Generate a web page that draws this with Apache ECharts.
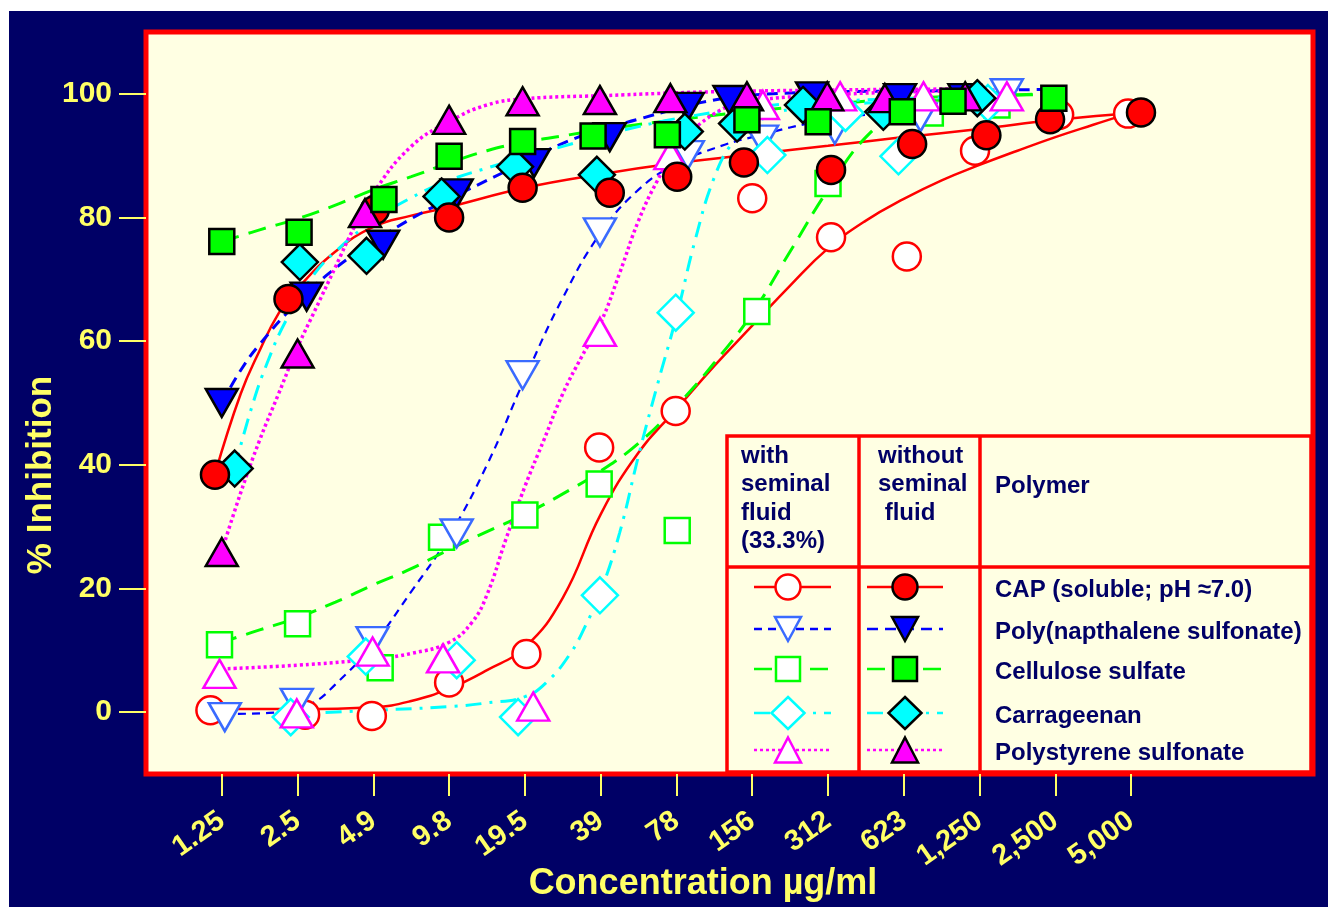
<!DOCTYPE html>
<html>
<head>
<meta charset="utf-8">
<script src="https://cdn.jsdelivr.net/npm/echarts@6/dist/echarts.min.js"></script>
<style>
html,body{margin:0;padding:0;background:#ffffff;width:1328px;height:907px;overflow:hidden;}
#c{position:absolute;left:9px;top:11px;width:1319px;height:896px;}
</style>
</head>
<body>
<div id="c"></div>
<script>
// ---------- DATA (x = position on the doubling-dose scale, 0 = 1.25 µg/ml) ----------
const tickLabels = ['1.25','2.5','4.9','9.8','19.5','39','78','156','312','623','1,250','2,500','5,000'];
const yTicks = [0,20,40,60,80,100];

// measured points
const capWith = [[-0.15,0.3],[1.1,-0.4],[1.98,-0.6],[3.0,4.8],[4.02,9.4],[4.98,42.8],[5.99,48.7],[7.0,83.1],[8.04,76.8],[9.04,73.7],[9.94,90.8],[11.05,96.6],[11.96,96.8]];
const capWithout = [[-0.09,38.4],[0.88,66.8],[2.02,81.2],[3.0,80.0],[3.97,84.8],[5.12,84.0],[6.01,86.6],[6.89,88.9],[8.04,87.7],[9.11,91.9],[10.09,93.3],[10.93,95.9],[12.13,97.0]];
const pnsWith = [[0.04,-0.8],[0.99,1.5],[1.99,11.5],[3.1,28.9],[3.97,54.5],[4.99,77.6],[6.15,90.1],[7.13,92.6],[8.09,94.2],[9.22,96.2],[10.36,100.1]];
const pnsWithout = [[0,50.0],[1.12,67.2],[2.13,75.6],[3.1,83.9],[4.12,88.8],[5.12,93.0],[6.15,97.9],[6.7,99.0],[7.79,99.6],[8.95,99.3],[9.8,99.3]];
const cellWith = [[-0.03,10.9],[1.0,14.3],[2.09,7.2],[2.9,28.3],[4.0,31.9],[4.98,36.9],[6.01,29.4],[7.06,64.8],[8.0,85.5],[9.35,96.9],[10.23,98.2]];
const cellWithout = [[0,76.1],[1.02,77.6],[2.14,82.9],[3.0,89.9],[3.97,92.3],[4.9,93.2],[5.88,93.4],[6.93,95.8],[7.87,95.5],[8.98,97.1],[9.65,98.8],[10.98,99.3]];
const carrWith = [[0.91,-0.8],[1.9,9.0],[3.1,8.4],[3.91,-0.8],[4.99,18.9],[5.99,64.6],[7.2,90.1],[8.23,96.9],[8.93,89.9],[10.11,98.5]];
const carrWithout = [[0.17,39.4],[1.03,72.8],[1.91,73.8],[2.9,83.4],[3.87,88.2],[4.95,86.9],[6.11,93.9],[6.8,95.2],[7.67,98.2],[8.73,97.1],[9.97,99.3]];
const psWith = [[-0.03,6.2],[0.99,-0.2],[1.99,9.8],[2.92,8.7],[4.11,0.9],[4.99,61.5],[5.92,90.1],[7.14,98.2],[8.16,99.6],[9.26,99.6],[10.36,99.6]];
const psWithout = [[0,25.9],[1.0,58.0],[1.89,80.7],[3.0,95.8],[3.97,98.8],[4.99,99.0],[5.92,99.3],[6.93,99.6],[7.99,99.6],[8.75,99.3],[9.81,99.6]];

// fitted curves
const capWithFit = [[-0.15,0.5],[1,0.5],[2,0.8],[2.5,1.8],[3,3.8],[3.5,6.8],[4,10.5],[4.5,18.5],[5,32],[5.5,42],[6,49],[6.5,56],[7,62.5],[7.5,69],[8,75],[8.5,79.5],[9,83],[9.5,86],[10,88.5],[10.5,90.8],[11,93],[11.5,95],[11.96,96.8]];
const capWithoutFit = [[-0.09,38.5],[0.25,51.5],[0.5,58.5],[0.75,64.5],[1,68.5],[1.5,74.5],[2,78.5],[2.5,80.3],[3,81.7],[4,84.8],[5,87],[6,88.8],[7,90.2],[8,91.6],[9,93],[10,94.3],[11,95.8],[12.13,97]];
const pnsWithFit = [[0.03,-0.3],[0.8,0],[1.2,1.5],[1.5,4.5],[2,11],[2.5,19.5],[3,28.5],[3.5,40],[4,54],[4.5,67],[5,77.5],[5.5,84.5],[6,88.7],[6.5,91.2],[7,93],[8,95.8],[9,97.2],[10.36,99.3]];
const pnsWithoutFit = [[0,50],[0.25,55.3],[0.5,59.5],[1,66.3],[1.5,71.8],[2,76],[2.5,79.8],[3,83],[3.5,86],[4,89],[4.5,92],[5,94.2],[5.5,95.9],[6,97.6],[6.5,99],[7,99.8],[8,100.3],[9.5,100.5],[10.84,100.7]];
const cellWithFit = [[-0.03,11.2],[0.5,13.3],[1,15.3],[1.5,17.8],[2,20.6],[2.5,23.2],[3,26.3],[3.5,29.2],[4,32],[4.5,35.3],[5,39],[5.5,43.5],[6,49.5],[6.5,56.5],[7,64.5],[7.5,74.5],[8,84.5],[8.5,93],[9,97.3],[9.5,98.8],[10.8,100]];
const cellWithoutFit = [[0,76.1],[0.5,78],[1,79.8],[1.5,82],[2,84.5],[2.5,86.6],[3,88.8],[3.5,90.8],[4,92.2],[4.5,93.2],[5,94.2],[6,95.8],[7,97.2],[8,98.3],[9,99.2],[10,99.7],[10.98,99.9]];
const carrWithFit = [[0.91,-0.3],[2,0.3],[3,0.9],[3.5,1.5],[4,2.5],[4.3,5],[4.6,9.5],[4.8,14],[5,19.5],[5.25,29],[5.5,41.5],[5.75,53],[6,64],[6.25,76.5],[6.5,86.5],[6.75,92.3],[7,95],[7.5,97.5],[8.5,98.5],[10.11,99]];
const carrWithoutFit = [[0.17,39.5],[0.4,49.5],[0.6,56.5],[0.85,63.4],[1.2,70.5],[1.5,74.5],[2,79.5],[2.5,83.2],[3,86],[3.5,88],[4,89.8],[4.5,91.5],[5,93.2],[5.5,94.7],[6,96],[7,97.8],[8,98.8],[9.97,99.4]];
const psWithFit = [[0,7],[1,7.6],[2,8.6],[2.5,9.5],[3,11.3],[3.3,14.5],[3.5,19],[3.75,28],[4,36.5],[4.25,44],[4.5,51.5],[4.75,57.5],[5,63],[5.25,71],[5.5,79.5],[5.75,86],[6,91],[6.5,96.8],[7,98.8],[8,99.8],[9,100.3],[10.27,100.6]];
const psWithoutFit = [[0,26],[0.25,35.5],[0.5,44],[0.75,51.5],[1,59],[1.25,65.5],[1.5,72],[1.75,78.5],[2,84],[2.5,91.5],[3,95.5],[3.5,98.2],[4,99.2],[5,99.7],[6.75,100.4],[10,100.8]];

const legendNames = ['CAP (soluble; pH \u22487.0)','Poly(napthalene sulfonate)','Cellulose sulfate','Carrageenan','Polystyrene sulfonate'];

// ---------- STYLES ----------
const YEL = '#FFFF66', NAVY = '#000066', FONT = '"Liberation Sans", Arial, sans-serif';
const polymers = [
  {color:'#FF0000', openColor:'#FF0000', sym:'circle', size:28, rot:0, dashW:'solid', dashWo:'solid', lw:2.5, lwo:2.5, lsym:'circle'},
  {color:'#0000FF', openColor:'#3A6BFF', sym:'triangle', size:[32,28], rot:180, dashW:[8,6], dashWo:[11,7], lw:2.2, lwo:3, lsym:'triDown'},
  {color:'#00FF00', openColor:'#00FF00', sym:'rect', size:25, rot:0, dashW:[18,10], dashWo:[18,10], lw:3, lwo:3, lsym:'square'},
  {color:'#00FFFF', openColor:'#00FFFF', sym:'diamond', size:[36,36], rot:0, dashW:[16,8,3,8], dashWo:[16,8,3,8], lw:3, lwo:3, lsym:'diamond'},
  {color:'#FF00FF', openColor:'#FF00FF', sym:'triangle', size:[32,28], rot:0, dashW:[3,3], dashWo:[3,3], lw:3.5, lwo:3.5, lsym:'triUp'}
];
const withPts = [capWith, pnsWith, cellWith, carrWith, psWith];
const withoutPts = [capWithout, pnsWithout, cellWithout, carrWithout, psWithout];
const withFit = [capWithFit, pnsWithFit, cellWithFit, carrWithFit, psWithFit];
const withoutFit = [capWithoutFit, pnsWithoutFit, cellWithoutFit, carrWithoutFit, psWithoutFit];
const openZ = [3,4,3.5,4.5,5];
const filledZ = [12,10,14,11,13];

const series = [];
polymers.forEach((p,i)=>{
  series.push({type:'line', data:withFit[i], smooth:0.45, showSymbol:false, symbol:'none', z:2, silent:true,
    lineStyle:{color:p.color, width:p.lw, type:p.dashW}});
  series.push({type:'line', data:withoutFit[i], smooth:0.45, showSymbol:false, symbol:'none', z:2, silent:true,
    lineStyle:{color:p.color, width:p.lwo, type:p.dashWo}});
});
polymers.forEach((p,i)=>{
  series.push({type:'scatter', data:withPts[i], symbol:p.sym, symbolSize:p.size, symbolRotate:p.rot, z:openZ[i],
    itemStyle:{color:'#FFFFFF', borderColor:p.openColor, borderWidth:2.5, opacity:1}});
});
polymers.forEach((p,i)=>{
  series.push({type:'scatter', data:withoutPts[i], symbol:p.sym, symbolSize:p.size, symbolRotate:p.rot, z:filledZ[i],
    itemStyle:{color:p.color, borderColor:'#000000', borderWidth:2.5, opacity:1}});
});

// ---------- LEGEND TABLE (graphic) ----------
const OX = 9, OY = 11; // container offset on the page
function P(x,y){return [x-OX,y-OY];}
function symbolGraphic(kind, cx, cy, fill, stroke){
  const st = {fill:fill, stroke:stroke, lineWidth:2.5};
  if(kind==='circle') return {type:'circle', shape:{cx:cx, cy:cy, r:12.5}, style:st, z:102};
  if(kind==='square') return {type:'rect', shape:{x:cx-12, y:cy-12, width:24, height:24}, style:st, z:102};
  if(kind==='diamond') return {type:'polygon', shape:{points:[[cx,cy-16],[cx+16.5,cy],[cx,cy+16],[cx-16.5,cy]]}, style:st, z:102};
  if(kind==='triUp') return {type:'polygon', shape:{points:[[cx,cy-12.5],[cx+13,cy+12.5],[cx-13,cy+12.5]]}, style:st, z:102};
  return {type:'polygon', shape:{points:[[cx-13,cy-12],[cx+13,cy-12],[cx,cy+12]]}, style:st, z:102};
}
const graphics = [];
const tl = P(727,436);
graphics.push({type:'rect', shape:{x:tl[0], y:tl[1], width:1311-727, height:772-436}, style:{fill:'#FFFFE3', stroke:'#FF0000', lineWidth:3.5}, z:100});
[859,980].forEach((x)=>{const a=P(x,436), b=P(x,772); graphics.push({type:'line', shape:{x1:a[0],y1:a[1],x2:b[0],y2:b[1]}, style:{stroke:'#FF0000', lineWidth:3.5}, z:101});});
{const a=P(727,567), b=P(1311,567); graphics.push({type:'line', shape:{x1:a[0],y1:a[1],x2:b[0],y2:b[1]}, style:{stroke:'#FF0000', lineWidth:3.5}, z:101});}
const hdrFont = 'bold 24px ' + FONT;
{const q=P(741,442); graphics.push({type:'text', x:q[0], y:q[1], style:{text:'with\nseminal\nfluid\n(33.3%)', font:hdrFont, fill:NAVY, lineHeight:28.5, verticalAlign:'top', align:'left'}, z:103});}
{const q=P(878,442); graphics.push({type:'text', x:q[0], y:q[1], style:{text:'without\nseminal\n fluid', font:hdrFont, fill:NAVY, lineHeight:28.5, verticalAlign:'top', align:'left'}, z:103});}
{const q=P(995,486); graphics.push({type:'text', x:q[0], y:q[1], style:{text:'Polymer', font:hdrFont, fill:NAVY, verticalAlign:'middle', align:'left'}, z:103});}
const rowSymY = [587,629,669,713,750];
const rowTxtY = [590,632,672,716,753];
polymers.forEach((p,i)=>{
  const y = rowSymY[i];
  const dash = (d)=> d==='solid'? null : d;
  const a1=P(754,y), b1=P(831,y), a2=P(867,y), b2=P(943,y);
  graphics.push({type:'line', shape:{x1:a1[0],y1:a1[1],x2:b1[0],y2:b1[1]}, style:{stroke:p.color, lineWidth:2.5, lineDash:dash(p.dashW)}, z:101});
  graphics.push({type:'line', shape:{x1:a2[0],y1:a2[1],x2:b2[0],y2:b2[1]}, style:{stroke:p.color, lineWidth:2.5, lineDash:dash(p.dashWo)}, z:101});
  const c1=P(788,y), c2=P(905,y);
  graphics.push(symbolGraphic(p.lsym, c1[0], c1[1], '#FFFFFF', p.openColor));
  graphics.push(symbolGraphic(p.lsym, c2[0], c2[1], p.color, '#000000'));
  const t=P(995,rowTxtY[i]);
  graphics.push({type:'text', x:t[0], y:t[1], style:{text:legendNames[i], font:hdrFont, fill:NAVY, verticalAlign:'middle', align:'left'}, z:103});
});
// axis titles
{const q=P(41,475); graphics.push({type:'text', x:q[0], y:q[1], rotation:Math.PI/2, style:{text:'% Inhibition', font:'bold 35px '+FONT, fill:YEL, align:'center', verticalAlign:'middle'}, z:50});}
{const q=P(703,884); graphics.push({type:'text', x:q[0], y:q[1], style:{text:'Concentration \u00b5g/ml', font:'bold 36px '+FONT, fill:YEL, align:'center', verticalAlign:'middle'}, z:50});}

const chart = echarts.init(document.getElementById('c'), null, {renderer:'canvas'});
chart.setOption({
  animation:false,
  backgroundColor:NAVY,
  grid:{left:137, top:21, right:15, bottom:133, show:true, backgroundColor:'#FFFFE3', borderColor:'#FF0000', borderWidth:5},
  xAxis:{type:'value', min:-1, max:14.4, interval:1, splitLine:{show:false}, axisLine:{show:false, onZero:false},
    axisTick:{show:true, customValues:tickLabels.map((_,i)=>i), length:22, lineStyle:{color:YEL, width:2}},
    axisLabel:{customValues:tickLabels.map((_,i)=>i), formatter:(v)=>tickLabels[Math.round(v)]||'', rotate:35, margin:44,
      color:YEL, fontSize:29, fontWeight:'bold', fontFamily:FONT}},
  yAxis:{type:'value', min:-10, max:110, interval:10, splitLine:{show:false}, axisLine:{show:false, onZero:false},
    axisTick:{show:true, customValues:yTicks, length:27, lineStyle:{color:YEL, width:2}},
    axisLabel:{customValues:yTicks, margin:34, color:YEL, fontSize:30, fontWeight:'bold', fontFamily:FONT}},
  series:series,
  graphic:graphics
});
</script>
</body>
</html>
